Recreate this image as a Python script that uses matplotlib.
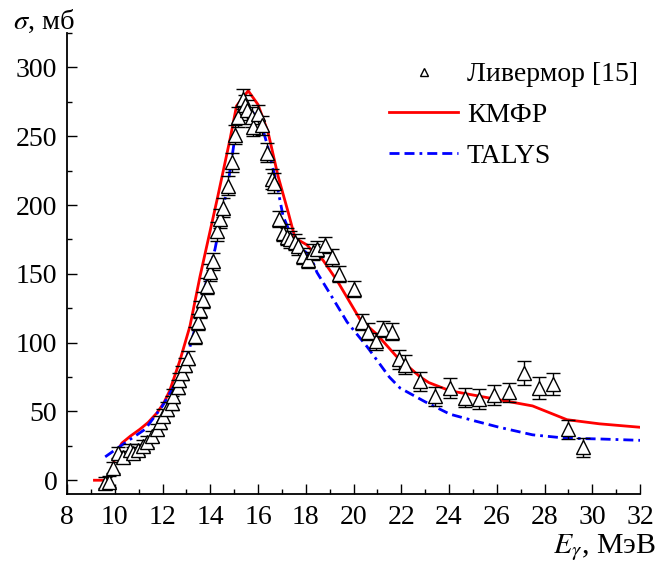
import matplotlib
matplotlib.use("Agg")
import matplotlib.pyplot as plt
from matplotlib.lines import Line2D
from matplotlib.ticker import MultipleLocator

plt.rcParams['font.family'] = ['Liberation Serif', 'DejaVu Serif']
plt.rcParams['mathtext.fontset'] = 'stix'

# Livermore [15] data
liv_E = [9.60, 9.75, 9.93, 10.15, 10.35, 10.64, 10.77, 10.97, 11.20, 11.35,
         11.56, 11.77, 11.90, 12.00, 12.19, 12.40, 12.45, 12.65, 12.70, 12.80,
         12.95, 13.05, 13.36, 13.50, 13.57, 13.70, 13.86, 13.99, 14.12, 14.28,
         14.40, 14.54, 14.75, 14.90, 15.05, 15.18, 15.37, 15.45, 15.54, 15.75,
         15.80, 16.00, 16.17, 16.38, 16.59, 16.65, 16.88, 17.05, 17.20, 17.34,
         17.55, 17.67, 17.90, 18.10, 18.30, 18.47, 18.80, 19.10, 19.39, 20.00,
         20.36, 20.60, 20.94, 21.24, 21.60, 21.90, 22.16, 22.80, 23.40, 24.04,
         24.67, 25.26, 25.88, 26.50, 27.14, 27.77, 28.36, 28.98, 29.60]
liv_s = [-2, -1, 9, 20, 17, 22, 20, 22, 25, 28,
         32, 37, 42, 47, 52, 56, 61, 68, 73, 78,
         84, 89, 105, 115, 124, 131, 141, 151, 159, 181,
         190, 198, 214, 231, 251, 264, 277, 273, 269, 264,
         257, 266, 258, 238, 219, 216, 190, 180, 177, 175,
         173, 170, 163, 160, 166, 168, 171, 162, 150, 139,
         115, 108, 101, 110, 108, 88, 84, 72, 61, 67,
         60, 59, 62, 64, 78, 67, 70, 37, 24]
liv_err = [4, 4, 4, 4, 4, 4, 4, 4, 4, 4,
           4, 4, 5, 5, 5, 5, 5, 5, 5, 5,
           5, 5, 6, 6, 6, 6, 6, 6, 6, 7,
           7, 7, 7, 7, 7, 7, 7, 7, 7, 7,
           7, 7, 7, 7, 7, 7, 6, 6, 6, 6,
           6, 6, 6, 6, 6, 6, 6, 6, 6, 6,
           6, 6, 6, 6, 6, 7, 7, 7, 7, 7,
           7, 7, 7, 7, 9, 8, 8, 7, 7]

# KMFR curve
kmfr_E = [9.15, 9.72, 10.10, 10.30, 10.65, 11.05, 11.40, 11.77, 12.05, 12.30,
          12.73, 13.15, 13.57, 14.30, 14.83, 15.10, 15.59, 16.00, 16.42, 16.84,
          17.26, 17.55, 18.05, 18.30, 18.72, 19.35, 20.27, 20.98, 21.80, 22.80,
          23.15, 24.04, 25.30, 26.55, 27.50, 28.94, 30.30, 32.00]
kmfr_s = [0, 0, 21, 27, 32, 37, 42, 49, 56, 65,
          87, 112, 148, 205, 248, 272, 283, 273, 253, 221,
          195, 176, 171, 166, 160, 144, 117, 106, 90, 75,
          71, 65, 61, 57, 54, 44, 41, 38.5]

# TALYS curve
talys_E = [9.60, 10.50, 11.27, 12.00, 12.40, 12.80, 13.15, 13.50, 13.86, 14.20,
           14.75, 15.10, 15.45, 15.80, 16.20, 16.40, 16.80, 17.05, 17.34, 17.70,
           18.22, 18.47, 19.00, 19.73, 20.57, 21.50, 21.95, 23.00, 24.04, 25.10,
           26.10, 27.50, 28.94, 30.30, 32.00]
talys_s = [17, 28, 37, 54, 66, 78, 97, 119, 146, 168,
           216, 257, 268, 267, 255, 243, 214, 192, 180, 171,
           162, 151, 136, 115, 97, 75, 67, 57, 48, 43,
           38.5, 33, 30.5, 30, 29]

talys_ls = (0, (3.6, 1.8, 3.6, 1.8, 1.0, 1.8))

fig = plt.figure(figsize=(6.59, 5.65), dpi=100)
ax = fig.add_axes([67/659, 1-494/565, (640-67)/659, (494-33)/565])

ax.plot(kmfr_E, kmfr_s, color='#ff0000', lw=2.0, zorder=3)
ax.plot(talys_E, talys_s, color='#0000ff', lw=2.0, linestyle=talys_ls, zorder=3)
ax.errorbar(liv_E, liv_s, yerr=liv_err, fmt='^', ms=9.5, mfc='white', mec='black',
            mew=1.0, ecolor='black', elinewidth=1.0, capsize=4.8, capthick=1.0,
            zorder=4)

ax.set_xlim(8, 32)
ax.set_ylim(-10, 325)
ax.xaxis.set_major_locator(MultipleLocator(2))
ax.xaxis.set_minor_locator(MultipleLocator(1))
ax.yaxis.set_major_locator(MultipleLocator(50))
ax.yaxis.set_minor_locator(MultipleLocator(25))
ax.set_yticks([0, 50, 100, 150, 200, 250, 300])
ax.tick_params(which='major', direction='in', length=7, width=1.0,
               labelsize=20)
ax.tick_params(which='minor', direction='in', length=3.5, width=1.0)
ax.tick_params(axis='x', pad=8)
ax.tick_params(axis='y', pad=7)
for s in ['top', 'right']:
    ax.spines[s].set_visible(False)
for s in ['left', 'bottom']:
    ax.spines[s].set_linewidth(1.3)

handles = [Line2D([], [], marker='^', ls='none', ms=6, mfc='white', mec='black', mew=1.0),
           Line2D([], [], color='#ff0000', lw=2.0),
           Line2D([], [], color='#0000ff', lw=2.0, linestyle=talys_ls)]
labels = ['Ливермор [15]', 'КМФР', 'TALYS']
ax.legend(handles, labels, loc='upper left', bbox_to_anchor=(389/659, 1-62/565),
          bbox_transform=fig.transFigure, frameon=False, fontsize=20,
          handlelength=2.5, handletextpad=0.3, labelspacing=0.55,
          borderpad=0, borderaxespad=0)

fig.text(13/659, 1-21/565, r'$\sigma$, мб', fontsize=20.5, va='center', ha='left')
fig.text(656/659, 1-548/565, r'$E_{\gamma}$, МэВ', fontsize=21.5, va='center', ha='right')

fig.savefig('out.png', dpi=100)
